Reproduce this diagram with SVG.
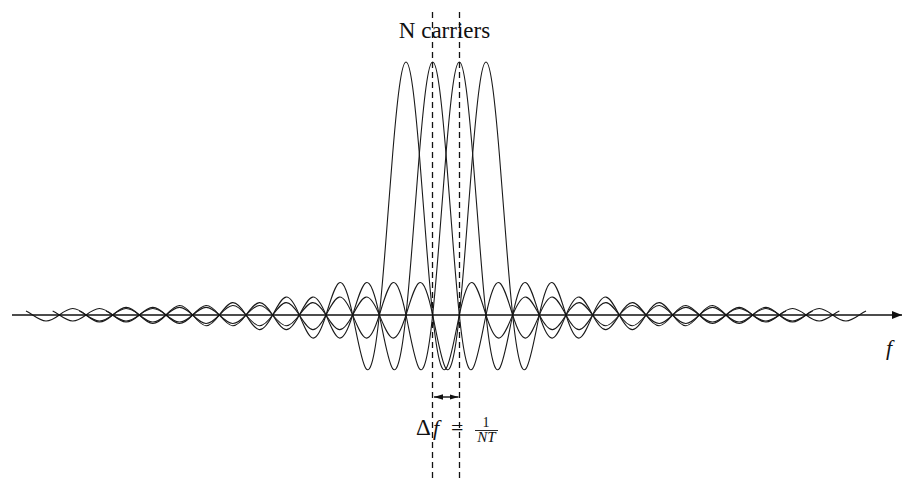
<svg xmlns="http://www.w3.org/2000/svg" xmlns:xlink="http://www.w3.org/1999/xlink" width="903" height="479" viewBox="0 0 903 479">
<style>
.crv{fill:none;stroke:#1a1a1a;stroke-width:1.1;vector-effect:non-scaling-stroke}
.ax{stroke:#111;stroke-width:1.4;fill:none}
.dash{stroke:#111;stroke-width:1.3;stroke-dasharray:6 4;fill:none}
.t{fill:#111}
.it{font-style:italic}
</style>
<defs>
<marker id="ah" viewBox="0 0 10 8" refX="10" refY="4" markerWidth="10" markerHeight="8" markerUnits="userSpaceOnUse" orient="auto">
<path d="M0,0 L10,4 L0,8 Z" fill="#111"/>
</marker>
<marker id="dh" viewBox="0 0 10 6" refX="10" refY="3" markerWidth="9" markerHeight="6" markerUnits="userSpaceOnUse" orient="auto-start-reverse">
<path d="M0,0 L10,3 L0,6 Z" fill="#111"/>
</marker>
<path id="half" class="crv" d="M0,1 C0.08333,1 0.16667,0.96472 0.25,0.90032 C0.33333,0.83591 0.41667,0.74272 0.5,0.63662 C0.58333,0.53052 0.66667,0.41202 0.75,0.30011 C0.83333,0.18819 0.91667,0.08333 1,0 C1.16667,-0.16667 1.33333,-0.23579 1.5,-0.21221 C1.66667,-0.18863 1.83333,-0.08333 2,0 C2.16667,0.08333 2.33333,0.13581 2.5,0.12732 C2.66667,0.11884 2.83333,0.05556 3,0 C3.16667,-0.05556 3.33333,-0.09528 3.5,-0.09095 C3.66667,-0.08662 3.83333,-0.04167 4,0 C4.16667,0.04167 4.33333,0.07336 4.5,0.07074 C4.66667,0.06812 4.83333,0.03333 5,0 C5.16667,-0.03333 5.33333,-0.05963 5.5,-0.05788 C5.66667,-0.05612 5.83333,-0.02778 6,0 C6.16667,0.02778 6.33333,0.05023 6.5,0.04897 C6.66667,0.04772 6.83333,0.02381 7,0 C7.16667,-0.02381 7.33333,-0.04338 7.5,-0.04244 C7.66667,-0.0415 7.83333,-0.02083 8,0 C8.16667,0.02083 8.33333,0.03818 8.5,0.03745 C8.66667,0.03671 8.83333,0.01852 9,0 C9.16667,-0.01852 9.33333,-0.03409 9.5,-0.03351 C9.66667,-0.03292 9.83333,-0.01667 10,0 C10.16667,0.01667 10.33333,0.0308 10.5,0.03032 C10.66667,0.02983 10.83333,0.01515 11,0 C11.16667,-0.01515 11.33333,-0.02808 11.5,-0.02768 C11.66667,-0.02728 11.83333,-0.01389 12,0 C12.16667,0.01389 12.33333,0.02581 12.5,0.02547 C12.66667,0.02513 12.83333,0.01282 13,0 C13.16667,-0.01282 13.33333,-0.02387 13.5,-0.02358 C13.66667,-0.02329 13.83333,-0.0119 14,0 C14.08333,0.00595 14.16667,0.01175 14.25,0.0158"/>
</defs>

<g id="carriers">
<g id="carrier1" transform="translate(406,315)"><use xlink:href="#half" href="#half" transform="scale(26.667,-253)"/><use xlink:href="#half" href="#half" transform="scale(-26.667,-253)"/></g>
<g id="carrier2" transform="translate(432.67,315)"><use xlink:href="#half" href="#half" transform="scale(26.667,-253)"/><use xlink:href="#half" href="#half" transform="scale(-26.667,-253)"/></g>
<g id="carrier3" transform="translate(459.33,315)"><use xlink:href="#half" href="#half" transform="scale(26.667,-253)"/><use xlink:href="#half" href="#half" transform="scale(-26.667,-253)"/></g>
<g id="carrier4" transform="translate(486,315)"><use xlink:href="#half" href="#half" transform="scale(26.667,-253)"/><use xlink:href="#half" href="#half" transform="scale(-26.667,-253)"/></g>
</g>

<g id="connectors">
<line id="freq-axis" class="ax" x1="12" y1="315" x2="902" y2="315" marker-end="url(#ah)"/>
<line id="dash1" class="dash" x1="432.5" y1="12" x2="432.5" y2="479"/>
<line id="dash2" class="dash" x1="459.5" y1="12" x2="459.5" y2="479"/>
<line id="delta-arrow" class="ax" x1="434" y1="397" x2="458.5" y2="397" stroke-width="1.8" marker-start="url(#dh)" marker-end="url(#dh)"/>
</g>

<g id="labels" font-family="'Liberation Serif','DejaVu Serif','Times New Roman',serif">
<text id="lbl-carriers" class="t" x="444.5" y="38" font-size="23" text-anchor="middle" font-family="'Liberation Serif','DejaVu Serif',serif">N carriers</text>
<text id="lbl-f" class="t it" x="886" y="355" font-size="22" font-family="'Liberation Serif','DejaVu Serif',serif">f</text>
<g id="lbl-delta" font-family="'Liberation Serif','DejaVu Serif',serif">
<text class="t" x="416" y="435" font-size="23">Δ</text>
<text class="t it" x="433" y="435" font-size="22">f</text>
<text class="t" x="451" y="435" font-size="22">=</text>
<text class="t" x="486" y="427" font-size="14" text-anchor="middle">1</text>
<line x1="475" y1="430.5" x2="498" y2="430.5" stroke="#111" stroke-width="0.9"/>
<text class="t it" x="486.5" y="442" font-size="15" text-anchor="middle">NT</text>
</g>
</g>
</svg>
